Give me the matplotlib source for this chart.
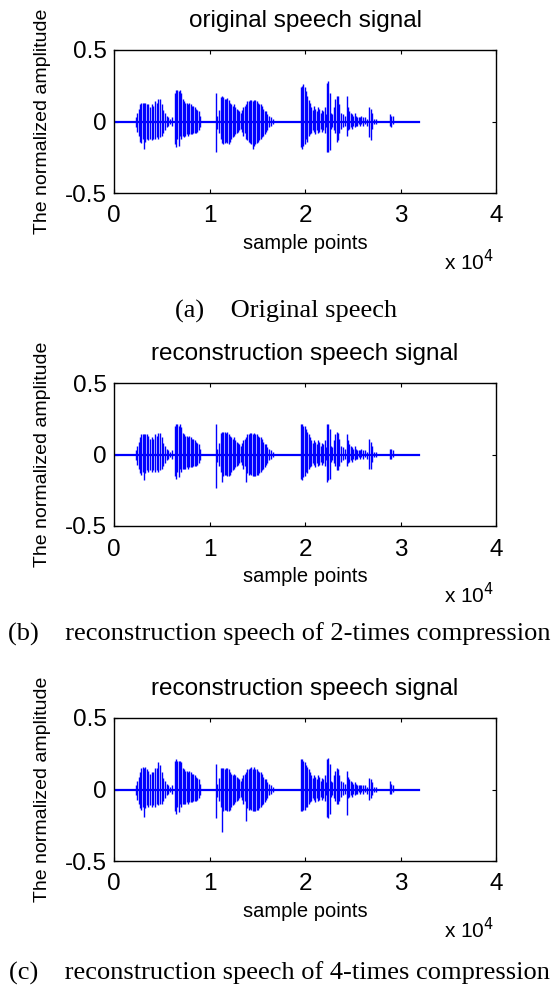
import matplotlib
matplotlib.use("Agg")
import matplotlib.pyplot as plt

# 语音信号包络（按图读出：采样点位置、上峰值、下峰值）
sig_len = 31900
pos = [2300, 2440, 2580, 2720, 2860, 3000, 3140, 3280, 3420, 3600, 3770, 3940,
       4120, 4290, 4470, 4640, 4820, 4990, 5170, 5340, 5510, 5690, 5860, 6040,
       6350, 6490, 6630, 6770, 6910, 7050, 7190, 7330, 7470, 7610, 7750, 7890,
       8030, 8170, 8310, 8450, 8590, 8730, 8870, 9000,
       10650, 10820, 11030, 11170, 11310, 11450, 11590, 11730, 11870, 12010,
       12150, 12290, 12420, 12560, 12700, 12840, 12980, 13120, 13260, 13400,
       13540, 13680, 13820, 13960, 14100, 14240, 14380, 14520, 14660, 14800,
       14940, 15080, 15220, 15360, 15500, 15640, 15780, 15910, 16050, 16190,
       16400, 16610,
       19610, 19720, 19820, 19960, 20100, 20240, 20380, 20520, 20660, 20800,
       20940, 21080, 21220, 21360, 21500, 21640, 21780, 21920, 22060, 22200,
       22300, 22440, 22580, 22720, 22860, 23030, 23170, 23310, 23450, 23590,
       23730, 23940, 24150, 24360, 24500, 24640, 24780, 24920, 25060, 25200,
       25340, 25480, 25620, 25760, 25900, 26100, 26310, 26520, 26730, 26870,
       27010, 27220, 27430, 28900, 29040, 29180]

# (a) 原始语音
top_a = [.03, .06, .09, .12, .13, .13, .128, .13, .125, .12, .10, .12,
         .11, .14, .13, .155, .155, .12, .08, .06, .04, .03, .02, .03,
         .20, .22, .22, .21, .22, .20, .16, .14, .13, .13, .12, .13,
         .12, .11, .11, .10, .09, .08, .07, .04,
         .20, .04, .08, .17, .175, .17, .16, .16, .165, .15,
         .13, .12, .11, .12, .10, .09, .08, .07, .06, .08,
         .10, .11, .12, .14, .14, .15, .15, .14, .15, .15,
         .14, .13, .12, .12, .11, .09, .07, .07, .05, .04,
         .03, .02,
         .24, .25, .26, .24, .21, .18, .15, .13, .10, .08,
         .11, .09, .07, .10, .09, .06, .08, .07, .10, .05,
         .27, .28, .20, .06, .05, .10, .16, .18, .18, .12,
         .06, .05, .04, .18, .10, .07, .06, .05, .04, .06,
         .04, .03, .03, .03, .04, .03, .03, .02, .10, .09,
         .06, .02, .02, .05, .04, .04]
bot_a = [-.04, -.07, -.10, -.14, -.15, -.12, -.19, -.14, -.12, -.13, -.12, -.13,
         -.12, -.12, -.11, -.12, -.11, -.10, -.08, -.06, -.04, -.03, -.02, -.03,
         -.16, -.18, -.12, -.17, -.10, -.12, -.10, -.11, -.10, -.09, -.10, -.09,
         -.09, -.09, -.08, -.08, -.08, -.07, -.06, -.04,
         -.21, -.05, -.08, -.12, -.15, -.16, -.15, -.14, -.15, -.16,
         -.14, -.12, -.11, -.10, -.09, -.08, -.07, -.06, -.05, -.07,
         -.10, -.08, -.12, -.13, -.14, -.15, -.16, -.19, -.17, -.16,
         -.15, -.14, -.13, -.12, -.11, -.10, -.09, -.07, -.06, -.04,
         -.03, -.02,
         -.18, -.19, -.17, -.16, -.12, -.14, -.10, -.09, -.08, -.06,
         -.07, -.09, -.06, -.08, -.07, -.05, -.07, -.06, -.08, -.04,
         -.21, -.21, -.20, -.05, -.04, -.06, -.08, -.14, -.13, -.08,
         -.05, -.04, -.03, -.10, -.06, -.05, -.04, -.05, -.03, -.04,
         -.03, -.03, -.02, -.03, -.02, -.03, -.02, -.03, -.11, -.13,
         -.05, -.02, -.02, -.03, -.04, -.02]

# (b) 2倍压缩重构
top_b = [.03, .06, .09, .12, .14, .145, .14, .145, .14, .13, .11, .12,
         .11, .14, .13, .15, .15, .12, .08, .06, .04, .03, .02, .03,
         .20, .21, .21, .20, .21, .19, .15, .14, .13, .13, .12, .13,
         .12, .11, .11, .10, .09, .08, .07, .04,
         .215, .04, .08, .15, .155, .16, .155, .15, .155, .14,
         .13, .12, .11, .12, .10, .09, .08, .07, .06, .08,
         .10, .11, .12, .14, .14, .15, .15, .14, .15, .14,
         .14, .13, .12, .12, .11, .09, .07, .07, .05, .04,
         .03, .02,
         .21, .21, .20, .20, .18, .16, .14, .12, .10, .08,
         .10, .09, .07, .10, .09, .06, .08, .07, .10, .05,
         .215, .21, .18, .06, .05, .10, .14, .155, .15, .11,
         .06, .05, .04, .145, .10, .07, .06, .05, .04, .06,
         .04, .03, .03, .03, .04, .03, .03, .02, .11, .09,
         .06, .02, .02, .04, .04, .03]
bot_b = [-.04, -.07, -.10, -.13, -.14, -.12, -.18, -.13, -.11, -.12, -.11, -.12,
         -.11, -.12, -.11, -.12, -.11, -.10, -.08, -.06, -.04, -.03, -.02, -.03,
         -.15, -.17, -.12, -.16, -.10, -.12, -.10, -.10, -.10, -.09, -.10, -.09,
         -.09, -.09, -.08, -.08, -.08, -.07, -.06, -.04,
         -.235, -.05, -.08, -.12, -.19, -.15, -.14, -.14, -.15, -.15,
         -.14, -.12, -.11, -.10, -.09, -.08, -.07, -.06, -.05, -.07,
         -.10, -.08, -.19, -.13, -.14, -.135, -.14, -.15, -.15, -.15,
         -.14, -.14, -.13, -.12, -.11, -.10, -.09, -.07, -.06, -.04,
         -.03, -.02,
         -.17, -.18, -.16, -.15, -.12, -.13, -.10, -.09, -.08, -.06,
         -.07, -.09, -.06, -.08, -.07, -.05, -.07, -.06, -.08, -.04,
         -.19, -.18, -.17, -.05, -.04, -.06, -.08, -.11, -.11, -.08,
         -.05, -.04, -.03, -.08, -.06, -.05, -.04, -.05, -.03, -.04,
         -.03, -.03, -.02, -.03, -.02, -.03, -.02, -.03, -.10, -.10,
         -.05, -.02, -.02, -.03, -.03, -.02]

# (c) 4倍压缩重构
top_c = [.03, .06, .09, .12, .15, .16, .15, .16, .14, .13, .11, .12,
         .12, .15, .15, .19, .17, .12, .08, .06, .04, .03, .02, .03,
         .20, .21, .20, .20, .20, .19, .15, .14, .13, .13, .12, .13,
         .12, .11, .11, .10, .09, .08, .07, .04,
         .175, .04, .08, .15, .15, .15, .14, .15, .15, .14,
         .12, .11, .10, .11, .10, .09, .08, .07, .06, .08,
         .10, .11, .12, .14, .14, .15, .155, .14, .155, .14,
         .14, .13, .12, .12, .11, .09, .07, .07, .05, .04,
         .03, .02,
         .21, .21, .20, .19, .17, .16, .14, .12, .10, .08,
         .10, .09, .07, .10, .09, .06, .08, .07, .10, .05,
         .21, .22, .18, .06, .05, .10, .13, .15, .14, .10,
         .06, .05, .04, .13, .09, .07, .06, .05, .04, .05,
         .04, .03, .03, .03, .03, .03, .03, .02, .08, .07,
         .05, .02, .02, .06, .04, .03]
bot_c = [-.04, -.07, -.10, -.13, -.14, -.12, -.19, -.13, -.11, -.12, -.11, -.12,
         -.11, -.12, -.10, -.11, -.10, -.10, -.08, -.06, -.04, -.03, -.02, -.03,
         -.15, -.17, -.12, -.16, -.10, -.12, -.10, -.10, -.10, -.09, -.10, -.09,
         -.09, -.09, -.08, -.08, -.08, -.07, -.06, -.04,
         -.20, -.05, -.08, -.12, -.30, -.15, -.14, -.14, -.15, -.15,
         -.14, -.12, -.11, -.10, -.09, -.08, -.07, -.06, -.05, -.07,
         -.10, -.08, -.22, -.13, -.14, -.135, -.14, -.15, -.15, -.15,
         -.14, -.14, -.13, -.12, -.11, -.10, -.09, -.07, -.06, -.04,
         -.03, -.02,
         -.15, -.15, -.14, -.14, -.12, -.12, -.10, -.09, -.08, -.06,
         -.07, -.09, -.06, -.08, -.07, -.05, -.07, -.06, -.08, -.04,
         -.19, -.20, -.17, -.05, -.04, -.06, -.08, -.10, -.10, -.08,
         -.05, -.04, -.03, -.175, -.06, -.05, -.04, -.05, -.03, -.04,
         -.03, -.03, -.02, -.03, -.02, -.03, -.02, -.03, -.07, -.06,
         -.04, -.02, -.02, -.03, -.03, -.02]

titles = ["original speech signal", "reconstruction speech signal",
          "reconstruction speech signal"]
captions = ["(a)    Original speech",
            "(b)    reconstruction speech of 2-times compression",
            "(c)    reconstruction speech of 4-times compression"]
xticks = [0, 10000, 20000, 30000, 40000]
xtick_labels = ["0", "1", "2", "3", "4"]
yticks = [-0.5, 0, 0.5]
ytick_labels = ["-0.5", "0", "0.5"]

W, H = 558, 993
fig = plt.figure(figsize=(W / 100, H / 100), dpi=100)
plt.rcParams['font.family'] = ['Liberation Sans', 'DejaVu Sans']

# 每个子图的坐标框（像素：上边、下边）
boxes = [(50, 193), (383, 526), (718, 861)]
caption_y = [311, 634, 973]
caption_x = [286, 279, 279]
left_px, right_px = 114, 496
blue = '#0000ff'

for i, (tops, bots) in enumerate([(top_a, bot_a), (top_b, bot_b), (top_c, bot_c)]):
    ytop, ybot = boxes[i]
    ax = fig.add_axes([left_px / W, 1 - ybot / H, (right_px - left_px) / W, (ybot - ytop) / H])
    ax.plot([0, sig_len], [0, 0], color=blue, lw=1.6)
    ax.vlines(pos, bots, tops, color=blue, lw=1.0)
    ax.set_xlim(0, 40000)
    ax.set_ylim(-0.5, 0.5)
    ax.set_xticks(xticks)
    ax.set_xticklabels(xtick_labels)
    ax.set_yticks(yticks)
    ax.set_yticklabels(ytick_labels)
    ax.tick_params(direction='in', top=True, right=True, length=3, width=0.8,
                   labelsize=17.5, pad=9)
    ax.tick_params(axis='y', pad=5)
    for sp in ax.spines.values():
        sp.set_linewidth(1.0)
    ax.text(0.5, 1.20, titles[i], transform=ax.transAxes, ha='center', va='center',
            fontsize=17.5)
    ax.set_xlabel("sample points", fontsize=14.5)
    ax.xaxis.set_label_coords(0.5, -0.29)
    ax.set_ylabel("The normalized amplitude", fontsize=14)
    ax.yaxis.set_label_coords(-0.165, 0.5)
    ax.text(0.995, -0.48, r'x 10$^{4}$', transform=ax.transAxes, ha='right',
            va='center', fontsize=15)
    fig.text(caption_x[i] / W, 1 - caption_y[i] / H, captions[i], ha='center',
             va='center', fontsize=19, family=['Liberation Serif', 'DejaVu Serif'])

fig.savefig("out.png", dpi=100)
